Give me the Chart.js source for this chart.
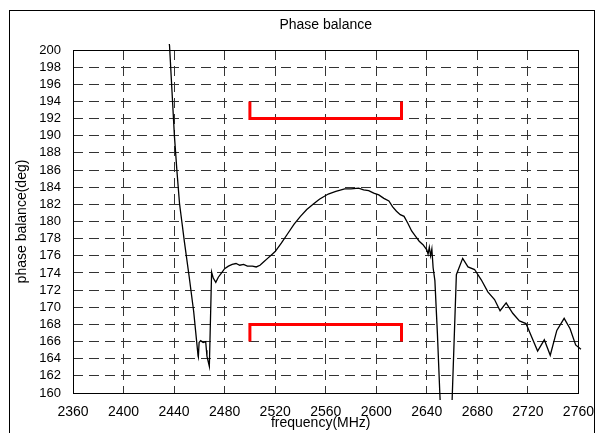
<!DOCTYPE html>
<html>
<head>
<meta charset="utf-8">
<script src="https://cdn.jsdelivr.net/npm/chart.js@4/dist/chart.umd.min.js"></script>
<style>
  body { margin: 0; background: #fff; }
  #wrap { position: relative; width: 605px; height: 433px; overflow: hidden; background: #fff; }
  #frame { position: absolute; left: 9px; top: 10px; width: 584px; height: 440px; border: 1px solid #000; }
  #chart { position: absolute; left: 0; top: 0; }
</style>
</head>
<body>
<div id="wrap">
  <div id="frame"></div>
  <canvas id="chart" width="605" height="433"></canvas>
</div>
<script>
const freq = [2435.5, 2436.4, 2438.3, 2440.3, 2442.3, 2444.3, 2446.3, 2448.2, 2452, 2455.5, 2459,
  2459.2, 2459.8, 2461, 2463, 2465, 2465.6, 2466, 2467.9, 2469.7, 2471, 2473, 2475, 2477,
  2480, 2483, 2486, 2489, 2492, 2495, 2498, 2502, 2505, 2508, 2511, 2514, 2517, 2520, 2525,
  2530, 2535, 2540, 2545, 2550, 2555, 2562, 2568, 2575, 2580, 2586, 2590, 2594, 2598,
  2602, 2606, 2610, 2613, 2616, 2619, 2622, 2625, 2628, 2631, 2634, 2637, 2640, 2641, 2642,
  2643, 2644, 2645, 2646.4, 2648.4, 2650.3, 2651.2, 2659.5, 2660.2, 2663.4, 2668.4, 2672.6,
  2677.8, 2683.1, 2688.3, 2693.6, 2698, 2702.8, 2708, 2713.3, 2718.5, 2727.7, 2733, 2737.7,
  2742.9, 2748.7, 2753.4, 2757.8, 2762];
const phase = [201.5, 200.5, 195.3, 189.9, 185.8, 182.1, 179.8, 177.6, 173.5, 169.5, 164.3,
  164.2, 165.9, 166.1, 165.9, 166.0, 165.0, 164.3, 163.1, 174.1, 173.4, 172.9, 173.5, 173.9,
  174.5, 174.8, 175.0, 175.1, 174.9, 175.0, 174.8, 174.8, 174.7, 174.9, 175.3, 175.7, 176.1, 176.5, 177.5,
  178.6, 179.7, 180.6, 181.4, 182.0, 182.6, 183.2, 183.5, 183.8, 183.8, 183.9, 183.7, 183.6, 183.3,
  183.1, 182.7, 182.4, 181.7, 181.2, 180.8, 180.6, 179.8, 178.9, 178.3, 177.7, 177.3, 176.7, 176.2, 177.0,
  176.0, 176.8, 174.6, 173.1, 166.9, 160.0, 157.0, 157.0, 159.9, 173.8, 175.7, 174.7,
  174.4, 173.2, 171.8, 170.9, 169.6, 170.5, 169.3, 168.4, 168.1, 164.9, 166.2, 164.4,
  167.3, 168.7, 167.5, 165.6, 165.1];

// spec limit brackets
const upperX = [2500, 2500, 2620, 2620];
const upperY = [194, 192, 192, 194];
const lowerX = [2500, 2500, 2620, 2620];
const lowerY = [166, 168, 168, 166];

const toPts = (xs, ys) => xs.map((x, i) => ({ x: x, y: ys[i] }));

const FONT = '"Liberation Sans", Arial, sans-serif';

// plot border + text labels
const framePlugin = {
  id: 'frame',
  beforeDatasetsDraw(chart) {
    const a = chart.chartArea;
    const ctx = chart.ctx;
    ctx.save();
    ctx.strokeStyle = '#000';
    ctx.lineWidth = 1;
    ctx.strokeRect(Math.round(a.left) + 0.5, Math.round(a.top) + 0.5,
      Math.round(a.right - a.left), Math.round(a.bottom - a.top));
    ctx.restore();
  },
  afterDraw(chart) {
    const a = chart.chartArea;
    const ctx = chart.ctx;
    ctx.save();
    ctx.fillStyle = '#000';
    ctx.font = '14px ' + FONT;
    ctx.textAlign = 'center';
    ctx.textBaseline = 'middle';
    ctx.fillText('Phase balance', (a.left + a.right) / 2, 25);
    ctx.fillText('frequency(MHz)', (a.left + a.right) / 2 - 5, 423);
    ctx.translate(22, (a.top + a.bottom) / 2);
    ctx.rotate(-Math.PI / 2);
    ctx.fillText('phase balance(deg)', 0, 0);
    ctx.restore();
  }
};

const ctx = document.getElementById('chart').getContext('2d');
new Chart(ctx, {
  type: 'scatter',
  data: {
    datasets: [
      {
        data: toPts(freq, phase),
        showLine: true,
        borderColor: '#000',
        borderWidth: 1.3,
        pointRadius: 0,
        tension: 0,
        clip: { left: 0, top: 6, right: 4, bottom: 7 }
      },
      {
        data: toPts(upperX, upperY),
        showLine: true,
        borderColor: '#ff0000',
        borderWidth: 3,
        pointRadius: 0
      },
      {
        data: toPts(lowerX, lowerY),
        showLine: true,
        borderColor: '#ff0000',
        borderWidth: 3,
        pointRadius: 0
      }
    ]
  },
  options: {
    responsive: false,
    animation: false,
    layout: { padding: { top: 50, right: 24, bottom: 0, left: 0 } },
    plugins: {
      legend: { display: false },
      title: { display: false },
      tooltip: { enabled: false }
    },
    scales: {
      x: {
        type: 'linear',
        min: 2360,
        max: 2760,
        afterFit: (s) => { s.height = 40; },
        border: { display: false, dash: [10, 6] },
        grid: { color: '#333', lineWidth: 1, drawTicks: false },
        ticks: {
          stepSize: 40,
          padding: 11,
          color: '#000',
          font: { family: FONT, size: 14 },
          callback: (v) => v
        }
      },
      y: {
        min: 160,
        max: 200,
        afterFit: (s) => { s.width = 73; },
        border: { display: false, dash: [10, 6] },
        grid: { color: '#333', lineWidth: 1, drawTicks: false },
        ticks: {
          stepSize: 2,
          autoSkip: false,
          padding: 12,
          color: '#000',
          font: { family: FONT, size: 13 }
        }
      }
    }
  },
  plugins: [framePlugin]
});
</script>
</body>
</html>
